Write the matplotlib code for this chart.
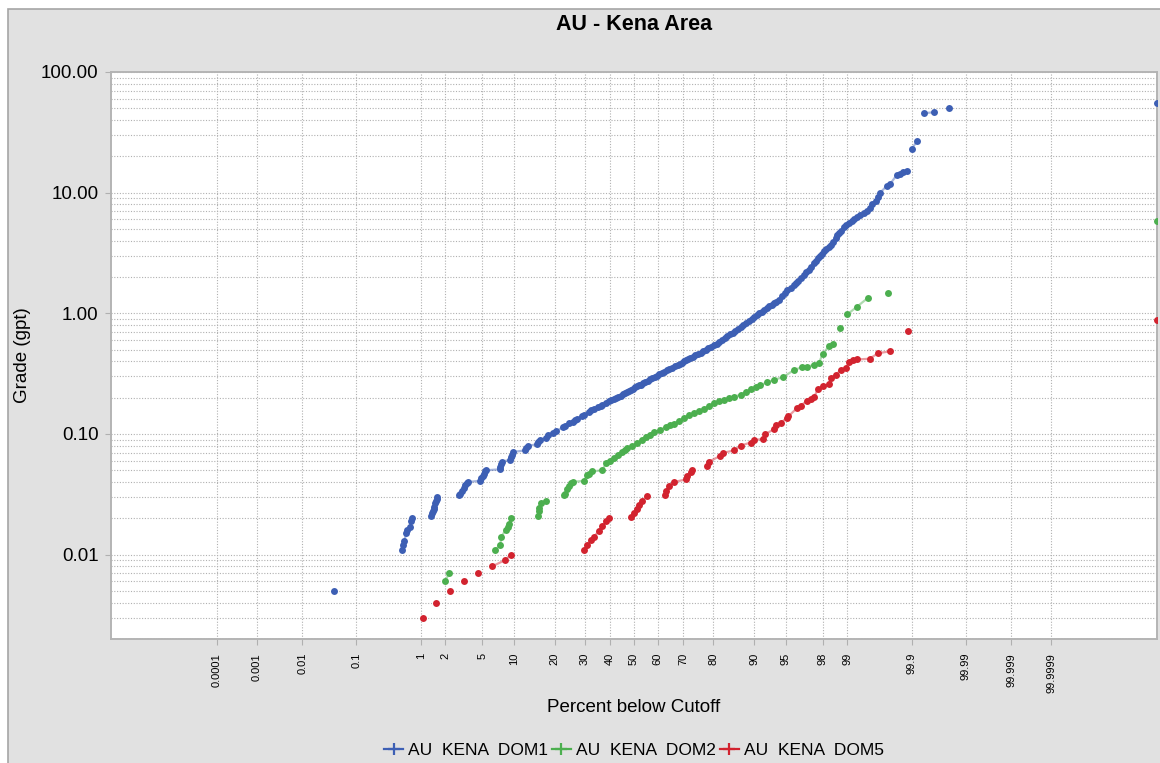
import numpy as np
import matplotlib
matplotlib.use("Agg")
import matplotlib.pyplot as plt
from matplotlib.patches import Rectangle
from matplotlib.lines import Line2D
from matplotlib.ticker import FixedLocator, FixedFormatter, LogLocator, NullFormatter
from statistics import NormalDist

# ---------------------------------------------------------------- data
TICK_PCT = [0.0001, 0.001, 0.01, 0.1, 1, 2, 5, 10, 20, 30, 40, 50, 60, 70,
            80, 90, 95, 98, 99, 99.9, 99.99, 99.999, 99.9999]
TICK_PCT_LABELS = ["0.0001", "0.001", "0.01", "0.1", "1", "2", "5", "10", "20",
                   "30", "40", "50", "60", "70", "80", "90", "95", "98", "99",
                   "99.9", "99.99", "99.999", "99.9999"]
GRADE_TICKS = [0.01, 0.1, 1, 10, 100]
GRADE_LABELS = ["0.01", "0.10", "1.00", "10.00", "100.00"]

DOM1_PCT = [0.04,
            0.55, 0.57, 0.59, 0.62, 0.65, 0.70, 0.73, 0.75,
            1.36, 1.40, 1.43, 1.46, 1.48, 1.50, 1.53, 1.57, 1.60,
            2.87, 2.95, 3.05, 3.20, 3.35, 3.45, 3.60,
            4.75, 4.90, 5.05, 5.20, 5.35, 5.50,
            7.45, 7.55, 7.65, 7.75,
            9.2, 9.4, 9.6, 9.8,
            12.2, 12.6, 13.0,
            15.0, 15.4, 15.8,
            17.5, 18.0,
            19.6, 20.4, 22.5, 23.1, 24.5, 25.7, 26.6, 27.3, 29.0, 29.7,
            31.5, 32.3, 33.5, 35.0, 36.2, 36.9, 38.2, 39.5,
            40.5, 41.6, 42.5, 43.4, 44.4, 45.4, 46.3, 47.1, 47.9, 48.6,
            49.5, 50.5, 51.4, 52.1, 52.8, 53.8, 54.8, 55.8, 56.8, 57.7,
            58.7, 59.6, 60.6, 61.5, 62.5, 63.5, 64.6, 65.6, 66.7, 67.8,
            68.6, 69.4, 70.2, 70.9, 71.5, 72.4, 73.3, 74.2, 75.1, 76.0,
            76.9, 77.7, 78.5, 79.4, 80.2, 81.0, 81.8, 82.6, 83.3, 84.0,
            84.7, 85.4, 86.0, 86.6, 87.2, 87.8, 88.4, 88.9, 89.5, 90.0,
            90.5, 91.0, 91.4, 91.9, 92.3, 92.7, 93.1, 93.5, 93.8, 94.1,
            94.5, 94.9, 95.2, 95.6, 95.9, 96.1, 96.3, 96.55, 96.75, 96.95,
            97.15, 97.3, 97.48, 97.6, 97.75, 97.87, 97.99, 98.1, 98.2, 98.3,
            98.4, 98.5, 98.6, 98.67, 98.73, 98.81, 98.89, 98.96, 99.05, 99.13,
            99.2, 99.27, 99.34, 99.41, 99.48, 99.52, 99.56, 99.61, 99.64, 99.67,
            99.74, 99.77, 99.82, 99.84, 99.86, 99.878,
            99.899, 99.920, 99.938, 99.959, 99.979, 100.0]
DOM1_GRADE = [0.005,
              0.011, 0.012, 0.013, 0.015, 0.016, 0.017, 0.019, 0.020,
              0.021, 0.022, 0.023, 0.024, 0.025, 0.027, 0.028, 0.029, 0.030,
              0.031, 0.032, 0.034, 0.036, 0.038, 0.039, 0.040,
              0.041, 0.043, 0.045, 0.047, 0.049, 0.050,
              0.051, 0.053, 0.056, 0.059,
              0.061, 0.064, 0.067, 0.071,
              0.073, 0.076, 0.080,
              0.082, 0.086, 0.090,
              0.093, 0.099,
              0.102, 0.105, 0.114, 0.117, 0.123, 0.126, 0.131, 0.134, 0.141,
              0.145, 0.153, 0.157, 0.160, 0.166, 0.170, 0.174, 0.180, 0.187,
              0.191, 0.195, 0.199, 0.203, 0.207, 0.213, 0.219, 0.224, 0.229,
              0.233, 0.238, 0.243, 0.248, 0.253, 0.257, 0.263, 0.270, 0.277,
              0.284, 0.291, 0.298, 0.305, 0.313, 0.320, 0.328, 0.336, 0.345,
              0.354, 0.364, 0.375, 0.383, 0.391, 0.399, 0.408, 0.416, 0.427,
              0.437, 0.448, 0.459, 0.471, 0.485, 0.499, 0.513, 0.528, 0.544,
              0.561, 0.580, 0.601, 0.622, 0.645, 0.668, 0.692, 0.715, 0.740,
              0.765, 0.795, 0.828, 0.865, 0.902, 0.94, 0.97, 1.00, 1.03, 1.06,
              1.10, 1.14, 1.18, 1.22, 1.25, 1.30, 1.38, 1.47, 1.55, 1.63,
              1.71, 1.78, 1.86, 1.95, 2.07, 2.18, 2.30, 2.44, 2.59, 2.72,
              2.85, 2.98, 3.13, 3.26, 3.40, 3.53, 3.67, 3.92, 4.20, 4.42,
              4.6, 4.85, 5.15, 5.4, 5.65, 5.85, 6.05, 6.3, 6.5, 6.75,
              7.0, 7.5, 8.0, 8.5, 9.2, 10.0,
              11.4, 11.8, 14.0, 14.4, 14.8, 15.2,
              23.0, 27.0, 45.5, 46.4, 50.7, 55.1]

DOM2_PCT = [1.97, 2.21, 6.7, 7.55, 7.65, 8.45, 8.8, 9.1, 9.4,
            15.3, 15.5, 15.6, 16.1, 17.4,
            22.9, 23.3, 24.0, 24.5, 25.2, 25.7, 29.8, 31.0, 31.8, 32.9,
            36.9, 38.2, 39.8, 41.6, 43.3, 45.1, 46.2, 47.2, 49.3, 51.4,
            53.2, 54.9, 56.6, 58.4, 60.8, 63.2, 64.8, 66.5, 68.4, 70.2,
            72.0, 73.8, 75.5, 77.1, 78.6, 80.2, 81.7, 83.1, 84.4, 85.6,
            87.2, 88.3, 89.3, 90.3, 91.2, 92.4, 93.4, 94.7, 95.9, 96.6,
            97.0, 97.5, 97.8, 98.0, 98.32, 98.51, 98.77, 99.0, 99.26, 99.49,
            99.75, 100.0]
DOM2_GRADE = [0.006, 0.007, 0.011, 0.012, 0.014, 0.016, 0.017, 0.018, 0.020,
              0.021, 0.023, 0.0245, 0.027, 0.028,
              0.031, 0.032, 0.035, 0.037, 0.039, 0.040, 0.041, 0.046, 0.047,
              0.049,
              0.050, 0.057, 0.060, 0.063, 0.067, 0.071, 0.073, 0.076, 0.080,
              0.084, 0.089, 0.094, 0.098, 0.103, 0.108, 0.114, 0.118, 0.122,
              0.128, 0.136, 0.143, 0.150, 0.156, 0.162, 0.170, 0.179, 0.186,
              0.193, 0.198, 0.203, 0.212, 0.222, 0.236, 0.245, 0.254, 0.268,
              0.281, 0.296, 0.340, 0.357, 0.362, 0.373, 0.390, 0.457, 0.535,
              0.553, 0.76, 0.98, 1.13, 1.34, 1.46, 5.86]

DOM5_PCT = [1.08, 1.55, 2.27, 3.22, 4.55, 6.28, 8.33, 9.4,
            29.8, 31.0, 32.3, 33.5, 35.5, 36.9, 38.2, 39.5,
            48.9, 50.0, 51.1, 52.1, 53.5, 55.4,
            62.8, 63.2, 64.5, 66.5, 70.8, 71.4, 72.6, 73.2, 78.2, 78.7,
            82.1, 82.9, 85.6, 87.2, 89.3, 90.0, 91.6, 92.1, 93.4, 93.8, 94.4,
            95.1, 95.3, 96.2, 96.5, 96.97, 97.3, 97.5, 97.74, 98.05, 98.3,
            98.4, 98.61, 98.8, 98.95, 99.05, 99.17, 99.27, 99.52, 99.64,
            99.77, 99.885, 100.0]
DOM5_GRADE = [0.003, 0.004, 0.005, 0.006, 0.007, 0.008, 0.009, 0.010,
              0.011, 0.0121, 0.0133, 0.014, 0.0158, 0.0172, 0.0189, 0.020,
              0.0205, 0.0221, 0.0239, 0.026, 0.0281, 0.0304,
              0.031, 0.0335, 0.037, 0.040, 0.042, 0.045, 0.048, 0.050, 0.054,
              0.059, 0.066, 0.070, 0.073, 0.080, 0.085, 0.089, 0.091, 0.100,
              0.109, 0.118, 0.123, 0.136, 0.140, 0.165, 0.172, 0.187, 0.195,
              0.202, 0.236, 0.250, 0.258, 0.290, 0.310, 0.340, 0.352, 0.392,
              0.410, 0.415, 0.420, 0.466, 0.485, 0.72, 0.88]

SERIES = [("AU  KENA  DOM1", DOM1_PCT, DOM1_GRADE, "#3d5fb4"),
          ("AU  KENA  DOM2", DOM2_PCT, DOM2_GRADE, "#4caf4f"),
          ("AU  KENA  DOM5", DOM5_PCT, DOM5_GRADE, "#d2232f")]

# ------------------------------------------------- probability x-scale
_nd = NormalDist()
_ppf = np.vectorize(_nd.inv_cdf, otypes=[float])
_cdf = np.vectorize(_nd.cdf, otypes=[float])

# normal score -> axis distance (slightly compressed in the tails)
Z_KNOTS = np.array([0.0, 0.8416, 1.2816, 1.6449, 2.0537, 2.3263, 3.0902,
                    3.7190, 4.2649, 4.7534, 6.5])
Z_RATIO = np.array([94.2, 94.2, 93.8, 92.2, 91.8, 91.7, 89.9, 89.2, 88.5,
                    87.8, 85.5])
D_KNOTS = Z_KNOTS * Z_RATIO
D_EDGE = 523.0
Z_EDGE = float(np.interp(D_EDGE, D_KNOTS, Z_KNOTS))


def pct_forward(p):
    p = np.asarray(p, dtype=float)
    q = np.clip(p / 100.0, 1e-15, 1 - 1e-15)
    z = np.clip(_ppf(q), -Z_EDGE, Z_EDGE)
    return np.sign(z) * np.interp(np.abs(z), Z_KNOTS, D_KNOTS)


def pct_inverse(d):
    d = np.asarray(d, dtype=float)
    z = np.sign(d) * np.interp(np.abs(d), D_KNOTS, Z_KNOTS)
    return 100.0 * _cdf(z)


def joined_runs(pct, grade, max_gap=15.0):
    """Split a series where neighbouring points sit far apart on the page,
    so the thin joining line only links close neighbours."""
    pct = np.asarray(pct, float)
    grade = np.asarray(grade, float)
    xs = pct_forward(pct)
    ys = 120.7 * np.log10(grade)
    gap = np.hypot(np.diff(xs), np.diff(ys))
    x_out, y_out = [pct[0]], [grade[0]]
    for i, g in enumerate(gap):
        if g > max_gap:
            x_out.append(np.nan)
            y_out.append(np.nan)
        x_out.append(pct[i + 1])
        y_out.append(grade[i + 1])
    return x_out, y_out


# ---------------------------------------------------------------- figure
plt.rcParams["font.family"] = ["Liberation Sans", "DejaVu Sans"]
W, H = 1160, 763
fig = plt.figure(figsize=(W / 100, H / 100), dpi=100, facecolor="white")
fig.add_artist(Rectangle((8 / W, -0.01), 1.02, 1 - 9 / H + 0.01,
                         transform=fig.transFigure, facecolor="#e1e1e1",
                         edgecolor="#a5a5a5", linewidth=1.2, zorder=-10))

ax = fig.add_axes([111 / W, 1 - 639 / H, (1157 - 111) / W, (639 - 72) / H])
ax.set_facecolor("white")
ax.set_xscale("function", functions=(pct_forward, pct_inverse))
ax.set_yscale("log")
ax.set_xlim(0, 100)
ax.set_ylim(0.002, 100)

grid_kw = dict(color="#b0b0b0", linestyle=(0, (1, 1.5)), linewidth=0.8)
ax.xaxis.set_major_locator(FixedLocator(TICK_PCT))
ax.xaxis.set_major_formatter(FixedFormatter(TICK_PCT_LABELS))
ax.xaxis.set_minor_locator(FixedLocator([]))
ax.yaxis.set_major_locator(FixedLocator(GRADE_TICKS))
ax.yaxis.set_major_formatter(FixedFormatter(GRADE_LABELS))
ax.yaxis.set_minor_locator(LogLocator(base=10, subs=np.arange(2, 10)))
ax.yaxis.set_minor_formatter(NullFormatter())
ax.grid(True, which="major", axis="both", **grid_kw)
ax.grid(True, which="minor", axis="y", **grid_kw)
ax.set_axisbelow(True)

ax.tick_params(axis="x", which="major", labelsize=8, rotation=90, length=4,
               color="#b0b0b0", pad=6)
ax.tick_params(axis="y", which="major", labelsize=13.5, length=4,
               color="#b0b0b0", pad=5)
ax.tick_params(axis="y", which="minor", length=0)
for s in ax.spines.values():
    s.set_color("#b4b4b4")
    s.set_linewidth(1.4)

handles = []
for name, pct, grade, col in SERIES:
    lx, ly = joined_runs(pct, grade)
    ax.plot(lx, ly, color=col, lw=1.6, alpha=0.45, zorder=2)
    ax.plot(pct, grade, linestyle="none", marker="o", ms=5.0, mew=0,
            color=col, zorder=3)
    handles.append(Line2D([], [], color=col, lw=1.6, marker="+", ms=9,
                          mew=1.6, label=name))

fig.text(634 / W, 1 - 25 / H, "AU - Kena Area", ha="center", va="center",
         fontsize=15.5, fontweight="bold")
fig.text(23 / W, 1 - 355 / H, "Grade (gpt)", rotation=90, ha="center",
         va="center", fontsize=13.5)
fig.text(634 / W, 1 - 708 / H, "Percent below Cutoff", ha="center",
         va="center", fontsize=13.5)
fig.legend(handles=handles, loc="center", bbox_to_anchor=(634 / W, 1 - 750 / H),
           ncol=3, frameon=False, fontsize=12.5, handlelength=1.1,
           handletextpad=0.3, columnspacing=0.2, borderpad=0)

fig.savefig("out.png", dpi=100, facecolor=fig.get_facecolor())
